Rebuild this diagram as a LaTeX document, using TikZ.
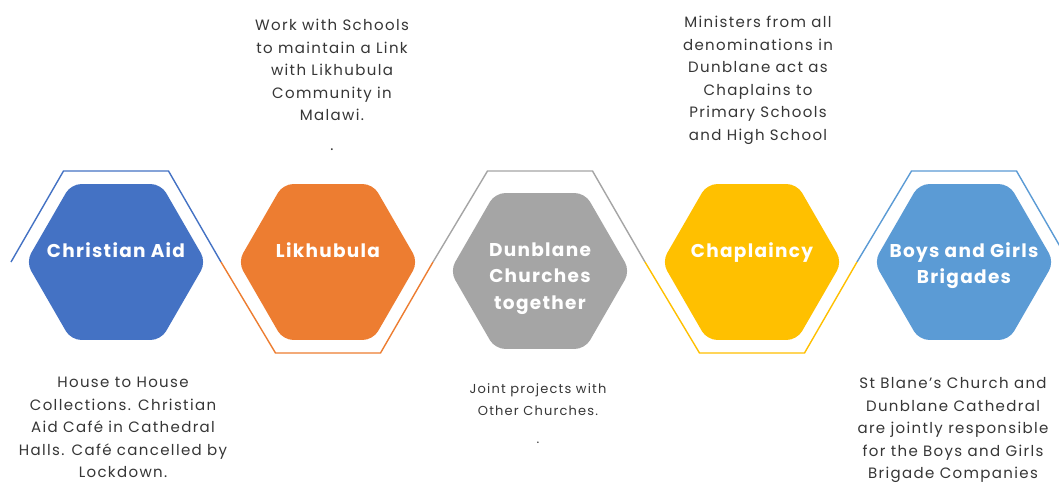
\documentclass[tikz,border=0pt]{standalone}
\usepackage{fontspec}
\setmainfont{Poppins}
\newfontfamily\descfont[LetterSpace=9]{Poppins}
\newfontfamily\labfont[LetterSpace=7]{Poppins}
\usetikzlibrary{shapes.geometric}
\definecolor{cblue}{HTML}{4472C4}
\definecolor{corange}{HTML}{ED7D31}
\definecolor{cgray}{HTML}{A5A5A5}
\definecolor{cyellow}{HTML}{FFC000}
\definecolor{clblue}{HTML}{5B9BD5}
\definecolor{ctext}{HTML}{363636}
\tikzset{
  hexfill/.style={regular polygon, regular polygon sides=6, minimum size=180pt,
    inner sep=0pt, outer sep=0pt, rounded corners=10pt, draw=none},
  hexlabel/.style={text=white, font=\labfont\bfseries\fontsize{18.5}{26.5}\selectfont, align=center, anchor=north},
  desc/.style={text=ctext, font=\descfont\fontsize{15}{22.5}\selectfont, align=center, anchor=north},
  rim/.style={line width=1.4pt, line join=miter}
}
\begin{document}
\begin{tikzpicture}[x=1pt,y=-1pt]
\useasboundingbox (0,0) rectangle (1059,484);
\fill[white] (0,0) rectangle (1059,484);
% outline zigzag
\coordinate (p0) at (11,262);
\coordinate (a1) at (63.5,171);  \coordinate (b1) at (168.5,171);
\coordinate (p1) at (221,262);
\coordinate (a2) at (275.5,353); \coordinate (b2) at (380.5,353);
\coordinate (p2) at (433,262);
\coordinate (a3) at (487.5,171); \coordinate (b3) at (592.5,171);
\coordinate (p3) at (645,262);
\coordinate (a4) at (699.5,353); \coordinate (b4) at (804.5,353);
\coordinate (p4) at (857,262);
\coordinate (a5) at (911.5,171); \coordinate (b5) at (1016.5,171);
\coordinate (p5) at (1069,262);
\begin{scope}
\clip (0,0) rectangle (1059,484);
\draw[rim, cblue] (p0) -- (a1) -- (b1) -- (p1);
\draw[rim, corange] (p1) -- (a2) -- (b2) -- (p2);
\draw[rim, cgray] (p2) -- (a3) -- (b3) -- (p3);
\draw[rim, cyellow] (p3) -- (a4) -- (b4) -- (p4);
\draw[rim, clblue] (p4) -- (a5) -- (b5) -- (p5);
\end{scope}
% hexagons
\node[hexfill, fill=cblue] (h1) at (116,262) {};
\node[hexfill, fill=corange] (h2) at (328,262) {};
\node[hexfill, fill=cgray] (h3) at (540,271) {};
\node[hexfill, fill=cyellow] (h4) at (752,262) {};
\node[hexfill, fill=clblue] (h5) at (964,262) {};
% labels
\node[hexlabel] (l1) at (116,239) {Christian Aid};
\node[hexlabel] (l2) at (328,239) {Likhubula};
\node[hexlabel] (l3) at (540,239) {Dunblane\\Churches\\together};
\node[hexlabel] (l4) at (752,239) {Chaplaincy};
\node[hexlabel] (l5) at (964,239) {Boys and Girls\\Brigades};
% descriptions
\node[desc] (d2) at (332,16) {Work with Schools\\to maintain a Link\\with Likhubula\\Community in\\Malawi.\\[7pt].};
\node[desc] (d4) at (758,13) {Ministers from all\\denominations in\\Dunblane act as\\Chaplains to\\Primary Schools\\and High School};
\node[desc] (d1) at (123,374) {House to House\\Collections. Christian\\Aid Café in Cathedral\\Halls. Café cancelled by\\Lockdown.};
\node[desc, font=\descfont\fontsize{13}{22}\selectfont] (d3) at (538,380) {Joint projects with\\Other Churches.\\[6pt].};
\node[desc] (d5) at (953,374) {St Blane’s Church and\\Dunblane Cathedral\\are jointly responsible\\for the Boys and Girls\\Brigade Companies};
\end{tikzpicture}
\end{document}
